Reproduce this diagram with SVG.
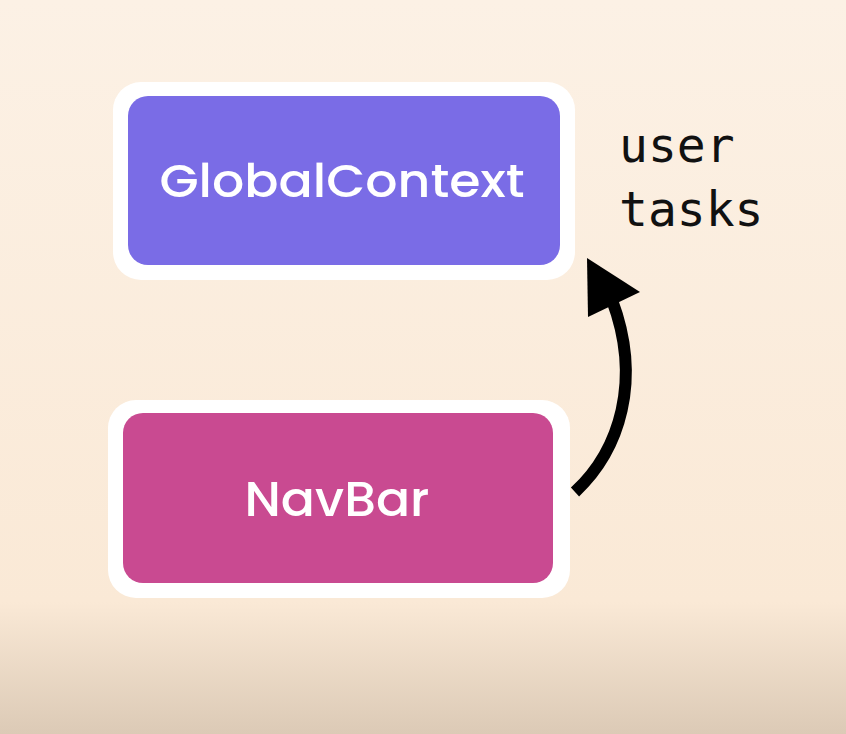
<svg xmlns="http://www.w3.org/2000/svg" width="846" height="734" viewBox="0 0 846 734">
<defs>
<linearGradient id="bg" x1="0" y1="0" x2="0" y2="1">
<stop offset="0" stop-color="#fcf1e5"/>
<stop offset="0.82" stop-color="#fae9d6"/>
<stop offset="1" stop-color="#dccab6"/>
</linearGradient>
<style>
.outer{fill:#ffffff}
.lbl{font-family:Poppins,"Inter","Noto Sans",sans-serif;font-weight:500;fill:#ffffff;text-anchor:middle}
.mono{font-family:"DejaVu Sans Mono","Liberation Mono",monospace;font-size:48px;fill:#111111}
</style>
</defs>
<rect x="0" y="0" width="846" height="734" fill="url(#bg)"/>
<g id="GlobalContext">
<rect class="outer" x="113" y="82" width="462" height="198" rx="28"/>
<rect x="128" y="96" width="432" height="169" rx="20" fill="#7a6ce6"/>
<text class="lbl" x="342" y="197" font-size="47" textLength="365" lengthAdjust="spacingAndGlyphs">GlobalContext</text>
</g>
<g id="NavBar">
<rect class="outer" x="108" y="400" width="462" height="198" rx="28"/>
<rect x="123" y="413" width="430" height="170" rx="20" fill="#c94a91"/>
<text class="lbl" x="337" y="516" font-size="48" textLength="185" lengthAdjust="spacingAndGlyphs">NavBar</text>
</g>
<g id="label">
<text class="mono" x="619" y="162">user</text>
<text class="mono" x="619" y="226">tasks</text>
</g>
<g id="connectors">
<path d="M575,492 C620,450 642,380 612,300" fill="none" stroke="#000" stroke-width="12"/>
<polygon points="587,258 640,292 588,317" fill="#000"/>
</g>
</svg>
